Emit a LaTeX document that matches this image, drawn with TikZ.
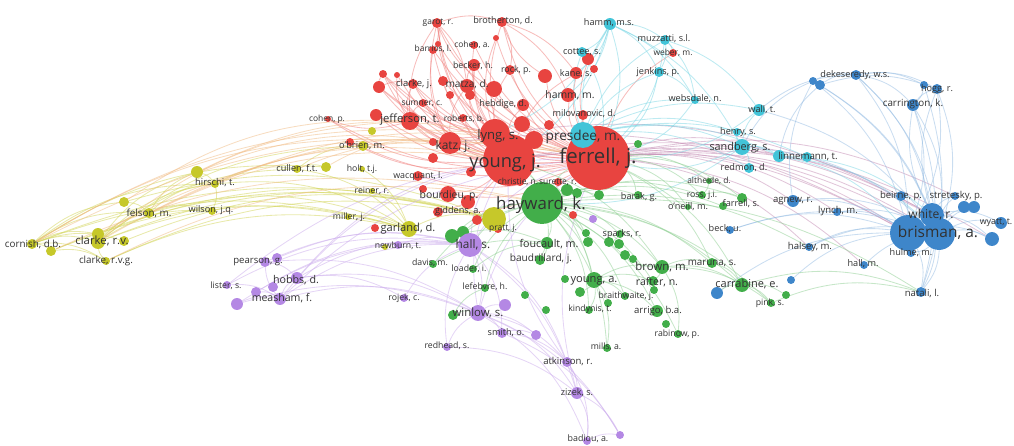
\documentclass[tikz,border=0pt]{standalone}
\usepackage{fontspec}
\setmainfont{Open Sans}
\usepackage{tikz}
\usetikzlibrary{backgrounds}

\definecolor{cRed}{RGB}{232,68,64}
\definecolor{cGreen}{RGB}{66,174,74}
\definecolor{cBlue}{RGB}{62,134,202}
\definecolor{cYellow}{RGB}{198,200,42}
\definecolor{cPurple}{RGB}{180,136,228}
\definecolor{cCyan}{RGB}{66,196,216}
\definecolor{cText}{RGB}{50,50,50}
\definecolor{cMauve}{RGB}{196,140,180}
\definecolor{cOrange}{RGB}{240,186,130}

\tikzset{
  dot/.style={circle, inner sep=0pt, minimum size=#1*1.418pt},
  rd/.style={dot=#1, fill=cRed},
  gn/.style={dot=#1, fill=cGreen},
  bl/.style={dot=#1, fill=cBlue},
  yl/.style={dot=#1, fill=cYellow},
  pu/.style={dot=#1, fill=cPurple},
  cy/.style={dot=#1, fill=cCyan},
  lb/.style={inner sep=0pt, text=cText, font=\fontsize{#1}{#1}\selectfont},
  edge/.style={line width=0.6pt, draw opacity=0.5, bend left=18},
  ered/.style={edge, draw=cRed!70},
  egn/.style={edge, draw=cGreen!60},
  ebl/.style={edge, draw=cBlue!55},
  eyl/.style={edge, draw=cYellow!80},
  epu/.style={edge, draw=cPurple!70},
  ecy/.style={edge, draw=cCyan!70},
  emv/.style={edge, draw=cMauve},
  eor/.style={edge, draw=cOrange},
}

\begin{document}
\begin{tikzpicture}[x=0.025cm, y=-0.025cm]
\useasboundingbox (0,0) rectangle (1014,446);

% red cluster
\node[rd=32] (ferrell) at (598,158) {}; \node[rd=26] (youngj) at (509,160) {};
\node[rd=15] (lyng) at (495,134) {}; \node[rd=11] (katz) at (450,143) {};
\node[rd=9] (jefferson) at (410,121) {}; \node[rd=7] (matza) at (467,86) {};
\node[rd=5] (clarkej) at (413,84) {}; \node[rd=6] (becker) at (474,65) {};
\node[rd=5] (rock) at (510,70) {}; \node[rd=4] (cohena) at (474,45) {};
\node[rd=4] (barrios) at (433,50) {}; \node[rd=5] (garot) at (437,23) {};
\node[rd=5] (brotherton) at (502,22) {}; \node[rd=4] (sumner) at (423,103) {};
\node[rd=4] (roberts) at (463,118) {}; \node[rd=6] (hebdige) at (523,105) {};
\node[rd=6] (kane) at (576,73) {}; \node[rd=7] (hammm) at (568,95) {};
\node[rd=5] (milovanovic) at (583,115) {}; \node[rd=3] (cohenp) at (328,119) {};
\node[rd=5] (wacquant) at (418,176) {}; \node[rd=8] (bourdieu) at (448,194) {};
\node[rd=5] (giddens) at (438,212) {}; \node[rd=4] (christie) at (520,182) {};
\node[rd=4] (surette) at (558,182) {}; \node[rd=4] (weber) at (673,53) {};
\node[rd=4] (pratt) at (498,229) {};
\foreach \x/\y/\s [count=\i] in {496/38/3, 438/44/3, 383/74/4, 397/75/3, 379/87/6,
    494/89/8, 470/95/5, 443/81/5, 450/95/4, 376/115/6, 350/142/4, 433/142/4,
    588/59/6, 594/69/4, 545/76/7, 522/124/8, 549/125/5, 433/158/5, 471/172/5,
    423/189/4, 468/202/7, 477/220/5, 375/228/4, 573/215/4, 534/140/9}
  \node[rd=\s] (r\i) at (\x,\y) {};

% cyan cluster
\node[cy=13] (presdee) at (583,135) {}; \node[cy=6] (hammms) at (610,24) {};
\node[cy=5] (cottee) at (582,52) {}; \node[cy=5] (muzzatti) at (665,40) {};
\node[cy=5] (jenkins) at (659,72) {}; \node[cy=4] (websdale) at (695,100) {};
\node[cy=6] (wall) at (759,110) {}; \node[cy=4] (henry) at (737,132) {};
\node[cy=8] (sandberg) at (742,147) {}; \node[cy=6] (linnemann) at (779,156) {};
\node[cy=5] (c1) at (807,157) {}; \node[cy=5] (redmon) at (749,168) {};

% green cluster
\node[gn=21] (hayward) at (542,203) {}; \node[gn=6] (foucault) at (547,243) {};
\node[gn=5] (baudrillard) at (540,260) {}; \node[gn=4] (sparks) at (620,234) {};
\node[gn=4] (barak) at (638,195) {}; \node[gn=3] (altheide) at (709,181) {};
\node[gn=4] (rossji) at (702,195) {}; \node[gn=5] (farrells) at (742,198) {};
\node[gn=3] (oneill) at (688,207) {}; \node[gn=7] (brownm) at (662,267) {};
\node[gn=5] (maruna) at (712,263) {}; \node[gn=8] (younga) at (594,280) {};
\node[gn=5] (rafter) at (653,281) {}; \node[gn=7] (carrabine) at (742,285) {};
\node[gn=4] (pink) at (771,303) {}; \node[gn=4] (braithwaite) at (625,296) {};
\node[gn=6] (arrigo) at (657,311) {}; \node[gn=4] (rabinow) at (678,334) {};
\node[gn=4] (kindynis) at (589,310) {}; \node[gn=4] (mills) at (607,348) {};
\node[gn=4] (davis) at (433,264) {}; \node[gn=4] (loader) at (473,269) {};
\node[gn=4] (lefebvre) at (485,288) {};
\foreach \x/\y/\s [count=\i] in {567/190/6, 577/193/5, 599/195/5, 586/233/4,
    588/242/5, 609/242/5, 619/244/5, 625/255/5, 633/259/4, 452/236/7, 463/232/6,
    565/279/4, 580/292/5, 666/324/4, 608/303/4, 546/310/4, 525/295/4, 654/290/4,
    723/206/4, 638/144/4, 786/295/4, 453/315/5}
  \node[gn=\s] (g\i) at (\x,\y) {};

% blue cluster
\node[bl=16] (brisman) at (939,234) {}; \node[bl=12] (white) at (932,215) {};
\node[bl=5] (beirne) at (901,196) {}; \node[bl=4] (stretesky) at (955,196) {};
\node[bl=6] (wyatt) at (1001,223) {}; \node[bl=6] (agnew) at (793,201) {};
\node[bl=4] (lynch) at (837,212) {}; \node[bl=4] (halsey) at (809,247) {};
\node[bl=4] (hulme) at (911,253) {}; \node[bl=4] (hallm) at (864,265) {};
\node[bl=5] (natali) at (921,292) {}; \node[bl=5] (dekeseredy) at (856,75) {};
\node[bl=5] (hogg) at (937,89) {}; \node[bl=6] (carrington) at (913,105) {};
\node[bl=4] (beck) at (730,230) {};
\foreach \x/\y/\s [count=\i] in {908/233/18, 964/207/6, 974/207/6, 992/239/7,
    813/81/4, 820/85/5, 924/85/4, 791/280/4, 717/293/6}
  \node[bl=\s] (b\i) at (\x,\y) {};

% yellow cluster
\node[yl=8] (garland) at (409,229) {}; \node[yl=5] (obrien) at (363,146) {};
\node[yl=4] (cullen) at (297,169) {}; \node[yl=3] (holt) at (362,169) {};
\node[yl=3] (reiner) at (372,191) {}; \node[yl=3] (millerj) at (348,217) {};
\node[yl=4] (hirschi) at (215,184) {}; \node[yl=5] (felson) at (149,213) {};
\node[yl=4] (wilsonjq) at (212,211) {}; \node[yl=5] (cornish) at (32,244) {};
\node[yl=7] (clarkerv) at (98,242) {}; \node[yl=4] (clarkervg) at (106,261) {};
\foreach \x/\y/\s [count=\i] in {494/219/12, 326/167/5, 197/172/6, 124/202/5,
    51/251/5, 98/234/6, 124/241/5, 372/131/4, 385/247/3}
  \node[yl=\s] (y\i) at (\x,\y) {};

% purple cluster
\node[pu=12] (halls) at (470,245) {}; \node[pu=8] (winlow) at (478,313) {};
\node[pu=5] (smith) at (502,333) {}; \node[pu=4] (redhead) at (447,347) {};
\node[pu=4] (rojek) at (404,298) {}; \node[pu=6] (measham) at (280,299) {};
\node[pu=6] (hobbs) at (297,278) {}; \node[pu=5] (pearson) at (265,262) {};
\node[pu=4] (lister) at (227,285) {}; \node[pu=5] (atkinson) at (567,362) {};
\node[pu=6] (zizek) at (577,393) {}; \node[pu=4] (badiou) at (587,441) {};
\node[pu=4] (newburn) at (398,245) {};
\foreach \x/\y/\s [count=\i] in {277/258/5, 273/287/5, 256/292/5, 237/304/6,
    505/305/6, 536/335/5, 620/435/4, 593/219/4}
  \node[pu=\s] (p\i) at (\x,\y) {};

% links
\begin{scope}[on background layer]
\foreach \a/\b in {ferrell/youngj, ferrell/lyng, ferrell/katz, ferrell/jefferson,
    ferrell/matza, ferrell/clarkej, ferrell/becker, ferrell/rock, ferrell/cohena,
    ferrell/garot, ferrell/brotherton, ferrell/hebdige, ferrell/kane, ferrell/hammm,
    ferrell/milovanovic, ferrell/bourdieu, ferrell/wacquant, ferrell/cohenp,
    ferrell/weber, ferrell/giddens, ferrell/r3, ferrell/r5, ferrell/r10, ferrell/r13,
    ferrell/r15, ferrell/r6, ferrell/barrios, ferrell/sumner, ferrell/r1,
    ferrell/r2, ferrell/r8, ferrell/r11, youngj/lyng,
    youngj/katz, youngj/jefferson, youngj/matza, youngj/garot, youngj/barrios,
    youngj/sumner, youngj/roberts, youngj/clarkej, youngj/cohenp, youngj/bourdieu,
    youngj/giddens, youngj/r3, youngj/r5, youngj/r10, youngj/r11, youngj/becker,
    youngj/brotherton, youngj/hebdige, youngj/kane, youngj/r4, youngj/r8,
    lyng/garot, lyng/becker,
    lyng/cohena, lyng/katz, lyng/jefferson, lyng/r1, lyng/r2, lyng/rock,
    lyng/r3, lyng/r5, lyng/matza, lyng/clarkej,
    katz/jefferson, katz/matza, katz/barrios, katz/r12, katz/garot, katz/r3,
    jefferson/cohenp, jefferson/clarkej, jefferson/sumner, jefferson/r10,
    jefferson/r4, jefferson/garot, garot/r2, matza/becker,
    garot/barrios, garot/matza, garot/brotherton, brotherton/rock, brotherton/hammm,
    brotherton/kane, r5/r3, r5/clarkej, r6/garot, r15/brotherton}
  \draw[ered] (\a) to (\b);
\foreach \a/\b in {ferrell/brisman, ferrell/white, ferrell/b1, ferrell/linnemann,
    ferrell/agnew, ferrell/b4, ferrell/lynch, ferrell/hallm, youngj/brisman,
    youngj/b1, lyng/white, katz/b1, ferrell/beirne, youngj/white, ferrell/halsey,
    ferrell/stretesky}
  \draw[emv] (\a) to (\b);
\foreach \a/\b in {presdee/hammms, presdee/muzzatti, presdee/jenkins,
    presdee/websdale, presdee/wall, presdee/henry, presdee/sandberg,
    presdee/linnemann, presdee/cottee, presdee/redmon, presdee/c1, hammms/kane,
    hammms/cottee, hammms/hammm, hammms/ferrell, hammms/muzzatti, hammms/jenkins,
    hammms/sandberg, hammms/websdale, hammms/youngj, muzzatti/weber,
    muzzatti/jenkins, muzzatti/websdale, muzzatti/ferrell, muzzatti/wall,
    sandberg/wall, sandberg/henry, sandberg/linnemann, sandberg/ferrell,
    sandberg/hayward, sandberg/redmon, linnemann/brisman, linnemann/white,
    linnemann/b1, jenkins/ferrell, jenkins/websdale, hammms/lyng, cottee/ferrell,
    wall/ferrell, websdale/ferrell}
  \draw[ecy] (\a) to (\b);
\foreach \a/\b in {brisman/white, brisman/beirne, brisman/stretesky, brisman/wyatt,
    agnew/brisman, lynch/brisman, halsey/brisman, brisman/hulme, hallm/brisman,
    brisman/natali, dekeseredy/brisman, hogg/brisman, carrington/brisman,
    brisman/b2, brisman/b3, brisman/b4, beck/brisman, b5/brisman, b6/brisman,
    b1/white, b1/natali, carrington/b1, dekeseredy/b1, hogg/b1, b1/b4, b9/b1,
    halsey/b1, agnew/b1, b5/b1, white/carrington, white/hogg, dekeseredy/white,
    white/natali, white/wyatt, white/b4, white/stretesky, dekeseredy/hogg,
    dekeseredy/carrington, b5/dekeseredy, b6/dekeseredy, wall/dekeseredy,
    dekeseredy/b7, carrington/hogg, carrington/natali, b7/carrington, agnew/b5,
    sandberg/b5, linnemann/b6, b7/natali, b6/hogg, lynch/b1, beck/b1,
    sandberg/brisman, wall/brisman, b8/b1}
  \draw[ebl] (\a) to (\b);
\foreach \a/\b in {cornish/clarkerv, cornish/clarkervg, cornish/felson,
    cornish/hirschi, cornish/y4, cornish/garland, cornish/y1, cornish/y6,
    cornish/y7, cornish/y5, clarkerv/felson, clarkerv/hirschi, clarkerv/garland,
    clarkerv/y1, clarkerv/wilsonjq, clarkervg/clarkerv, clarkerv/y6, clarkerv/y3,
    clarkerv/cullen, felson/hirschi, felson/wilsonjq, felson/garland, y4/felson,
    felson/y3, hirschi/cullen, hirschi/garland, y3/hirschi, hirschi/wilsonjq,
    cullen/obrien, cullen/y2, cullen/garland, garland/y1, millerj/garland,
    reiner/garland, holt/garland, clarkervg/y1, clarkervg/garland, y5/clarkervg,
    y5/y1, y5/garland, y6/y1, y7/y1, y4/y1, clarkerv/obrien, cornish/y2}
  \draw[eyl] (\a) to (\b);
\foreach \a/\b in {cornish/katz, clarkerv/youngj, felson/youngj, hirschi/ferrell,
    y3/youngj, y3/lyng, cornish/ferrell, clarkervg/hayward, y4/jefferson, y2/katz,
    cullen/youngj, y5/hayward, cornish/lyng, y6/ferrell, clarkerv/jefferson,
    felson/ferrell}
  \draw[eor] (\a) to (\b);
\foreach \a/\b in {halls/winlow, measham/halls, hobbs/halls, pearson/halls,
    lister/halls, rojek/halls, redhead/halls, halls/smith, halls/atkinson,
    halls/zizek, halls/youngj, halls/ferrell, newburn/halls, p1/halls, p4/halls,
    winlow/smith, winlow/atkinson, winlow/zizek, winlow/badiou, redhead/winlow,
    measham/winlow, hobbs/winlow, winlow/youngj, winlow/ferrell, winlow/p5,
    winlow/p6, zizek/badiou, atkinson/zizek, zizek/p7, zizek/ferrell,
    measham/hobbs, measham/pearson, lister/measham, p4/measham, p3/measham,
    pearson/hobbs, p2/hobbs, hobbs/rojek, hobbs/youngj, atkinson/badiou,
    atkinson/youngj, winlow/p7, badiou/p7, smith/p7, smith/p6, smith/atkinson,
    measham/youngj, lister/ferrell, p4/winlow, p3/halls, pearson/winlow,
    measham/ferrell, redhead/zizek}
  \draw[epu] (\a) to (\b);
\foreach \a/\b in {hayward/foucault, hayward/baudrillard, hayward/sparks,
    hayward/younga, hayward/brownm, hayward/rafter, hayward/carrabine,
    hayward/maruna, hayward/barak, hayward/arrigo, hayward/braithwaite,
    hayward/kindynis, davis/hayward, loader/hayward, lefebvre/hayward,
    hayward/farrells, hayward/rossji, hayward/pink, hayward/mills, hayward/rabinow,
    halls/hayward, hayward/ferrell, youngj/hayward, hayward/g1, hayward/g2,
    hayward/g3, g10/hayward, g11/hayward, hayward/g4, hayward/g5, younga/brownm,
    younga/rafter, younga/kindynis, younga/braithwaite, younga/arrigo,
    younga/mills, younga/g13, younga/g15, brownm/carrabine, brownm/maruna,
    brownm/rafter, brownm/pink, brownm/rabinow, brownm/g8, carrabine/pink,
    maruna/carrabine, carrabine/natali, b9/carrabine, carrabine/g21,
    foucault/baudrillard, davis/foucault, loader/foucault, g10/foucault,
    ferrell/g3, ferrell/farrells, ferrell/oneill, ferrell/altheide, ferrell/barak,
    ferrell/rossji, ferrell/carrabine, ferrell/maruna, g22/winlow, g22/lefebvre,
    sparks/g6, sparks/g7, rossji/farrells, altheide/rossji, hayward/halsey,
    hayward/natali, hayward/g19, youngj/younga, youngj/brownm, pink/natali}
  \draw[egn] (\a) to (\b);
\end{scope}

% labels
\node[lb=14.5] (t-ferrell) at (598,158) {ferrell, j.};
\node[lb=13] (t-youngj) at (505,163) {young, j.};
\node[lb=9.3] (t-lyng) at (498,136) {lyng, s.};
\node[lb=9.7] (t-presdee) at (583,137) {presdee, m.};
\node[lb=8.5] (t-katz) at (453,146) {katz, j.};
\node[lb=8] (t-jefferson) at (410,120) {jefferson, t.};
\node[lb=7.2] (t-matza) at (467,84) {matza, d.};
\node[lb=6.7] (t-clarkej) at (414,84) {clarke, j.};
\node[lb=6.3] (t-becker) at (473,66) {becker, h.};
\node[lb=6.3] (t-rock) at (516,70) {rock, p.};
\node[lb=6] (t-cohena) at (472,45) {cohen, a.};
\node[lb=6] (t-barrios) at (433,49) {barrios, l.};
\node[lb=6] (t-garot) at (438,23) {garot, r.};
\node[lb=6.5] (t-brotherton) at (503,21) {brotherton, d.};
\node[lb=6] (t-sumner) at (422,104) {sumner, c.};
\node[lb=6] (t-roberts) at (464,119) {roberts, b.};
\node[lb=6.5] (t-hebdige) at (503,104) {hebdige, d.};
\node[lb=6.5] (t-kane) at (576,74) {kane, s.};
\node[lb=7.4] (t-hammm) at (570,95) {hamm, m.};
\node[lb=6.5] (t-milovanovic) at (584,114) {milovanovic, d.};
\node[lb=6] (t-cohenp) at (327,119) {cohen, p.};
\node[lb=6.3] (t-wacquant) at (418,176) {wacquant, l.};
\node[lb=7.4] (t-bourdieu) at (449,196) {bourdieu, p.};
\node[lb=6.5] (t-giddens) at (458,211) {giddens, a.};
\node[lb=6] (t-christie) at (518,182) {christie, n.};
\node[lb=6] (t-surette) at (558,182) {surette, r.};
\node[lb=6] (t-weber) at (673,53) {weber, m.};
\node[lb=6] (t-pratt) at (503,228) {pratt, j.};
\node[lb=6.5] (t-hammms) at (609,23) {hamm, m.s.};
\node[lb=6.5] (t-cottee) at (582,52) {cottee, s.};
\node[lb=6.5] (t-muzzatti) at (664,39) {muzzatti, s.l.};
\node[lb=6.5] (t-jenkins) at (658,72) {jenkins, p.};
\node[lb=6.5] (t-websdale) at (695,99) {websdale, n.};
\node[lb=6.5] (t-wall) at (762,110) {wall, t.};
\node[lb=6.5] (t-henry) at (738,132) {henry, s.};
\node[lb=7.7] (t-sandberg) at (740,148) {sandberg, s.};
\node[lb=6.9] (t-linnemann) at (808,156) {linnemann, t.};
\node[lb=6.5] (t-redmon) at (744,168) {redmon, d.};
\node[lb=12] (t-hayward) at (541,205) {hayward, k.};
\node[lb=7.6] (t-foucault) at (549,244) {foucault, m.};
\node[lb=7.2] (t-baudrillard) at (541,259) {baudrillard, j.};
\node[lb=6.5] (t-sparks) at (622,234) {sparks, r.};
\node[lb=6.5] (t-barak) at (639,197) {barak, g.};
\node[lb=6] (t-altheide) at (709,181) {altheide, d.};
\node[lb=6.2] (t-rossji) at (702,195) {ross, j.i.};
\node[lb=6.5] (t-farrells) at (741,204) {farrell, s.};
\node[lb=6.5] (t-oneill) at (688,207) {o'neill, m.};
\node[lb=8.1] (t-brownm) at (662,267) {brown, m.};
\node[lb=7] (t-maruna) at (712,263) {maruna, s.};
\node[lb=7.9] (t-younga) at (594,281) {young, a.};
\node[lb=7.5] (t-rafter) at (657,282) {rafter, n.};
\node[lb=7.8] (t-carrabine) at (747,284) {carrabine, e.};
\node[lb=6.2] (t-pink) at (770,303) {pink, s.};
\node[lb=6.2] (t-braithwaite) at (626,296) {braithwaite, j.};
\node[lb=6.8] (t-arrigo) at (658,311) {arrigo, b.a.};
\node[lb=6.2] (t-rabinow) at (677,334) {rabinow, p.};
\node[lb=6.2] (t-kindynis) at (590,309) {kindynis, t.};
\node[lb=6.2] (t-mills) at (606,347) {mills, a.};
\node[lb=6.2] (t-davis) at (430,263) {davis, m.};
\node[lb=6.2] (t-loader) at (469,269) {loader, i.};
\node[lb=6.2] (t-lefebvre) at (485,287) {lefebvre, h.};
\node[lb=11] (t-brisman) at (938,233) {brisman, a.};
\node[lb=8.6] (t-white) at (931,215) {white, r.};
\node[lb=6.8] (t-beirne) at (901,196) {beirne, p.};
\node[lb=6.8] (t-stretesky) at (956,196) {stretesky, p.};
\node[lb=6.3] (t-wyatt) at (996,223) {wyatt, t.};
\node[lb=6.8] (t-agnew) at (793,201) {agnew, r.};
\node[lb=6.8] (t-lynch) at (838,211) {lynch, m.};
\node[lb=6.8] (t-halsey) at (810,247) {halsey, m.};
\node[lb=6.5] (t-hulme) at (911,253) {hulme, m.};
\node[lb=6.5] (t-hallm) at (863,264) {hall, m.};
\node[lb=6.8] (t-natali) at (922,293) {natali, l.};
\node[lb=6.5] (t-dekeseredy) at (855,75) {dekeseredy, w.s.};
\node[lb=6.5] (t-hogg) at (937,89) {hogg, r.};
\node[lb=7] (t-carrington) at (913,104) {carrington, k.};
\node[lb=6.5] (t-beck) at (725,229) {beck, u.};
\node[lb=7.9] (t-garland) at (408,229) {garland, d.};
\node[lb=6.6] (t-obrien) at (362,146) {o'brien, m.};
\node[lb=6.5] (t-cullen) at (297,169) {cullen, f.t.};
\node[lb=6.2] (t-holt) at (362,169) {holt, t.j.};
\node[lb=6.2] (t-reiner) at (372,191) {reiner, r.};
\node[lb=6.2] (t-millerj) at (349,217) {miller, j.};
\node[lb=6.7] (t-hirschi) at (215,183) {hirschi, t.};
\node[lb=7] (t-felson) at (149,213) {felson, m.};
\node[lb=6.5] (t-wilsonjq) at (211,210) {wilson, j.q.};
\node[lb=7] (t-cornish) at (33,244) {cornish, d.b.};
\node[lb=8.1] (t-clarkerv) at (102,241) {clarke, r.v.};
\node[lb=7] (t-clarkervg) at (106,261) {clarke, r.v.g.};
\node[lb=8.4] (t-halls) at (473,245) {hall, s.};
\node[lb=8.1] (t-winlow) at (478,313) {winlow, s.};
\node[lb=6.5] (t-smith) at (506,333) {smith, o.};
\node[lb=6.2] (t-redhead) at (447,346) {redhead, s.};
\node[lb=6.2] (t-rojek) at (404,298) {rojek, c.};
\node[lb=7.5] (t-measham) at (282,298) {measham, f.};
\node[lb=7.6] (t-hobbs) at (296,280) {hobbs, d.};
\node[lb=6.8] (t-pearson) at (258,262) {pearson, g.};
\node[lb=6.2] (t-lister) at (226,286) {lister, s.};
\node[lb=6.8] (t-atkinson) at (568,361) {atkinson, r.};
\node[lb=6.5] (t-zizek) at (577,393) {zizek, s.};
\node[lb=6.3] (t-badiou) at (588,439) {badiou, a.};
\node[lb=6.2] (t-newburn) at (398,246) {newburn, t.};
\end{tikzpicture}
\end{document}
